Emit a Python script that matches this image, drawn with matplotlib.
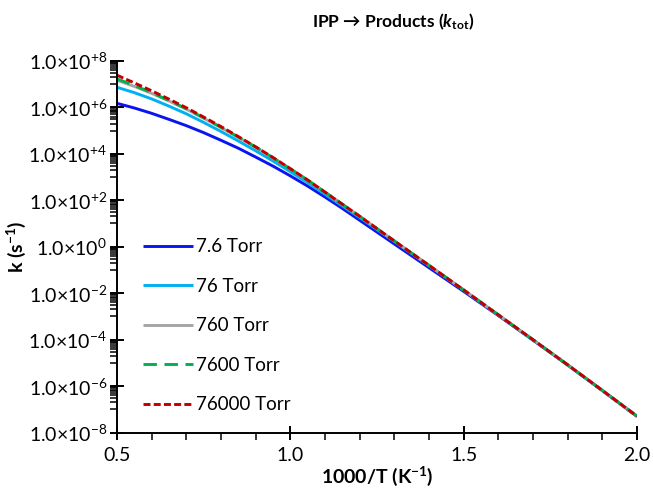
import numpy as np
import matplotlib
matplotlib.use("Agg")
import matplotlib.pyplot as plt
from matplotlib.ticker import FixedLocator, MultipleLocator, NullFormatter

# 1000/T (1/K)
inv_T = [0.5, 0.55, 0.6, 0.65, 0.7, 0.75, 0.8, 0.85, 0.9, 0.95, 1.0, 1.05, 1.1, 1.15, 1.2,
         1.3, 1.4, 1.5, 1.6, 1.7, 1.8, 1.9, 2.0]

# log10 k (s^-1), one list per pressure
log_k_7p6 = [6.17, 5.97, 5.74, 5.48, 5.21, 4.91, 4.58, 4.24, 3.86, 3.47, 3.05, 2.61, 2.14, 1.65, 1.14,
             0.12, -0.90, -1.92, -2.96, -4.02, -5.09, -6.19, -7.30]
log_k_76 = [6.86, 6.63, 6.36, 6.05, 5.72, 5.35, 4.96, 4.55, 4.13, 3.69, 3.23, 2.76, 2.26, 1.76, 1.26,
            0.23, -0.81, -1.86, -2.93, -4.00, -5.08, -6.18, -7.29]
log_k_760 = [7.16, 6.90, 6.60, 6.27, 5.92, 5.53, 5.13, 4.71, 4.28, 3.82, 3.35, 2.86, 2.35, 1.83, 1.31,
             0.25, -0.80, -1.86, -2.93, -4.00, -5.08, -6.18, -7.29]
log_k_7600 = [7.22, 6.94, 6.63, 6.29, 5.94, 5.55, 5.14, 4.72, 4.29, 3.83, 3.35, 2.87, 2.35, 1.83, 1.31,
              0.25, -0.80, -1.86, -2.93, -4.00, -5.08, -6.18, -7.29]
log_k_76000 = [7.38, 7.05, 6.71, 6.35, 5.98, 5.58, 5.17, 4.74, 4.30, 3.84, 3.36, 2.87, 2.35, 1.83, 1.31,
               0.25, -0.80, -1.86, -2.93, -4.00, -5.08, -6.18, -7.29]

labels = ["7.6 Torr", "76 Torr", "760 Torr", "7600 Torr", "76000 Torr"]
series = [log_k_7p6, log_k_76, log_k_760, log_k_7600, log_k_76000]
colors = ["#0a14f0", "#00b0f0", "#a5a5a5", "#00b050", "#c00000"]
dashes = [None, None, None, (4.6, 2.6), (2.4, 1.1)]

y_exps = [8, 6, 4, 2, 0, -2, -4, -6, -8]

plt.rcParams["font.family"] = ["Lato", "DejaVu Sans"]
plt.rcParams["mathtext.fontset"] = "custom"
plt.rcParams["mathtext.rm"] = "Lato"
plt.rcParams["mathtext.it"] = "Lato:italic"
plt.rcParams["mathtext.bf"] = "Lato:bold"
plt.rcParams["mathtext.bfit"] = "Lato:italic:bold"

fig = plt.figure(figsize=(6.53, 4.92), dpi=100)
ax = fig.add_axes([0.179, 0.1205, 0.7965, 0.756])

for ys, lab, c, d in zip(series, labels, colors, dashes):
    line, = ax.plot(inv_T, 10.0 ** np.array(ys), color=c, lw=2.1, label=lab,
                    solid_capstyle="butt", dash_capstyle="butt")
    if d is not None:
        line.set_dashes(d)

ax.set_yscale("log")
ax.set_xlim(0.5, 2.0)
ax.set_ylim(1e-8, 1e8)

for s in ["top", "right"]:
    ax.spines[s].set_visible(False)
for s in ["left", "bottom"]:
    ax.spines[s].set_linewidth(1.4)

ax.xaxis.set_major_locator(FixedLocator([0.5, 1.0, 1.5, 2.0]))
ax.xaxis.set_minor_locator(MultipleLocator(0.1))
ax.set_xticklabels(["0.5", "1.0", "1.5", "2.0"])

ax.yaxis.set_major_locator(FixedLocator([10.0 ** e for e in y_exps]))
minor = [m * 10.0 ** e for e in range(-7, 8, 2) for m in range(1, 10)]
ax.yaxis.set_minor_locator(FixedLocator(minor))
ax.yaxis.set_minor_formatter(NullFormatter())
ylabs = []
for e in y_exps:
    sign = "+" if e > 0 else ""
    ylabs.append(r"$\mathregular{1.0{\times}10^{%s%d}}$" % (sign, e))
ax.set_yticklabels(ylabs)

ax.tick_params(which="major", direction="inout", length=10, width=1.4, labelsize=14, pad=2)
ax.tick_params(which="minor", direction="out", length=5, width=1.1)
ax.tick_params(axis="x", which="major", pad=5)

ax.set_xlabel(r"1000/T (K$^{\mathbf{-1}}$)", fontsize=14, fontweight="bold", labelpad=1)
ax.set_ylabel(r"k (s$^{\mathbf{-1}}$)", fontsize=14, fontweight="bold", labelpad=0)

fig.text(0.602, 0.955, r"IPP → Products ($\mathbfit{k}_{\mathbf{tot}}$)",
         fontsize=12.5, fontweight="bold", ha="center", va="center")

ax.legend(loc="center left", bbox_to_anchor=(0.05, 0.288), frameon=False,
          fontsize=13.5, handlelength=2.65, handletextpad=0.2, labelspacing=1.2,
          borderpad=0, borderaxespad=0)

fig.savefig("out.png", dpi=100)
